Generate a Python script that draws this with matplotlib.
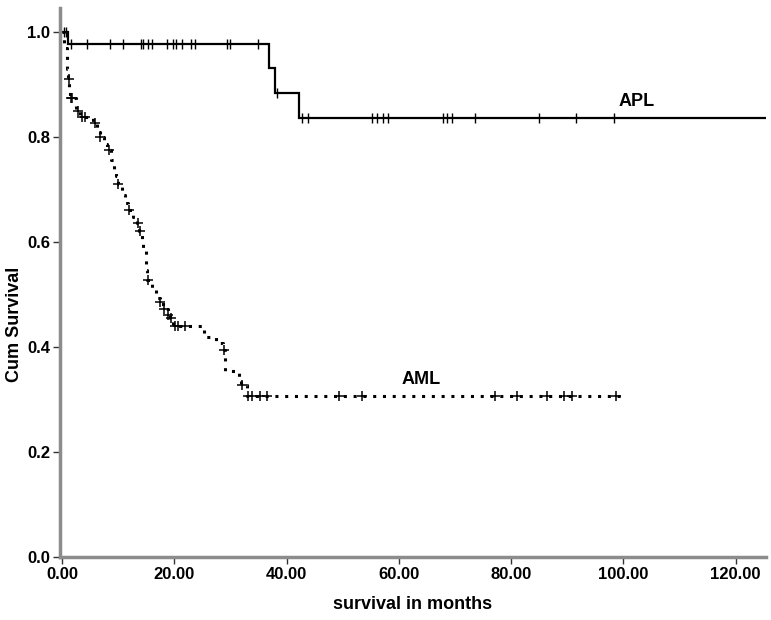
import matplotlib
matplotlib.use("Agg")
import matplotlib.pyplot as plt
import numpy as np

# ---- data ----
apl_event_times = [1.1, 36.9, 38.0, 42.2]
apl_event_surv = [0.977, 0.931, 0.884, 0.836]
apl_end = 125.3
apl_censor_times = [0.3, 0.8, 1.55, 4.4, 8.56, 10.8, 14.0, 14.4, 15.4, 16.0, 18.7, 19.8, 20.4,
                    21.3, 22.9, 23.7, 29.4, 30.0, 35.0, 38.3, 42.7, 43.9, 55.2, 56.1, 57.1,
                    58.1, 67.8, 68.5, 69.4, 73.6, 84.9, 91.6, 98.3]

aml_event_times = [0.3, 0.9, 1.1, 1.3, 1.5, 2.5, 3.3, 5.5, 6.3, 6.7, 7.5, 8.0, 8.8, 9.2, 9.6,
                   9.9, 10.7, 11.2, 11.8, 12.6, 13.4, 13.8, 14.2, 14.5, 14.9, 15.0, 15.2,
                   16.0, 16.7, 17.4, 18.0, 18.8, 19.3, 19.8, 25.3, 27.5, 28.6, 29.1, 31.5,
                   31.9, 32.9]
aml_event_surv = [0.97, 0.93, 0.91, 0.89, 0.875, 0.85, 0.838, 0.826, 0.81, 0.80, 0.787, 0.775,
                  0.757, 0.74, 0.725, 0.71, 0.69, 0.675, 0.661, 0.648, 0.636, 0.621, 0.60,
                  0.583, 0.566, 0.546, 0.528, 0.51, 0.493, 0.486, 0.472, 0.461, 0.455, 0.44,
                  0.42, 0.408, 0.395, 0.355, 0.34, 0.328, 0.307]
aml_end = 99.5
aml_censor_times = [1.25, 1.6, 1.85, 2.8, 3.6, 4.1, 5.8, 6.8, 8.3, 10.0, 11.9, 13.6, 13.9,
                    15.3, 17.5, 18.1, 18.9, 19.4, 20.1, 20.7, 21.9, 28.8, 32.0, 33.2, 33.8,
                    35.3, 36.6, 49.3, 53.4, 77.2, 81.0, 86.4, 89.4, 90.9, 98.7]

x_ticks = [0, 20, 40, 60, 80, 100, 120]
y_ticks = [0.0, 0.2, 0.4, 0.6, 0.8, 1.0]


def step_path(times, surv, end):
    xs = [0.0] + list(times) + [end]
    ys = [1.0] + list(surv) + [surv[-1]]
    return np.array(xs), np.array(ys)


def surv_at(times, surv, t):
    s = 1.0
    for ti, si in zip(times, surv):
        if ti <= t:
            s = si
    return s


font = ['Liberation Sans Narrow', 'Liberation Sans', 'DejaVu Sans']
plt.rcParams['font.family'] = font

fig = plt.figure(figsize=(7.71, 6.2), dpi=100)
ax = fig.add_axes([60 / 771, 63 / 620, 706 / 771, 549 / 620])

# APL
xs, ys = step_path(apl_event_times, apl_event_surv, apl_end)
ax.step(xs, ys, where='post', color='black', lw=1.6, solid_joinstyle='miter')
cy = [surv_at(apl_event_times, apl_event_surv, t) for t in apl_censor_times]
ax.plot(apl_censor_times, cy, linestyle='none', marker='|', color='black', ms=7, mew=1.0)

# AML
xs, ys = step_path(aml_event_times, aml_event_surv, aml_end)
ax.step(xs, ys, where='post', color='black', lw=2.2, linestyle=(0, (1, 2.2)), dash_capstyle='butt')
cy = [surv_at(aml_event_times, aml_event_surv, t) for t in aml_censor_times]
ax.plot(aml_censor_times, cy, linestyle='none', marker='+', color='black', ms=7, mew=1.1)

ax.text(102.3, 0.868, 'APL', fontsize=13, fontweight='bold', ha='center', va='center')
ax.text(64.0, 0.339, 'AML', fontsize=13, fontweight='bold', ha='center', va='center')

ax.set_xlim(-0.35, 125.4)
ax.set_ylim(0.0, 1.046)
ax.set_xticks(x_ticks)
ax.set_xticklabels([f"{v:.2f}" for v in x_ticks])
ax.set_yticks(y_ticks)
ax.set_yticklabels([f"{v:.1f}" for v in y_ticks])

for s in ['top', 'right']:
    ax.spines[s].set_visible(False)
for s in ['left', 'bottom']:
    ax.spines[s].set_color('#8c8c8c')
    ax.spines[s].set_linewidth(2.5)

ax.tick_params(axis='both', direction='out', length=5, width=1.0, color='#333333',
               labelsize=12, pad=2)
for lab in ax.get_xticklabels() + ax.get_yticklabels():
    lab.set_fontweight('bold')

ax.set_xlabel('survival in months', fontsize=13, fontweight='bold', labelpad=10)
ax.set_ylabel('Cum Survival', fontsize=13, fontweight='bold')
ax.yaxis.set_label_coords(-0.053, 0.424)

fig.savefig('out.png', dpi=100)
